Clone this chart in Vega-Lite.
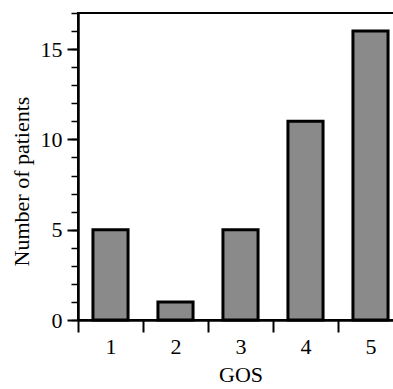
{
  "$schema": "https://vega.github.io/schema/vega-lite/v6.json",
  "width": 325,
  "height": 307,
  "autosize": {"type": "none"},
  "padding": {"left": 78, "top": 13, "right": 0, "bottom": 69},
  "background": "white",
  "config": {
    "view": {"stroke": "black", "strokeWidth": 2},
    "font": "Liberation Serif",
    "axis": {
      "grid": false,
      "domainColor": "black",
      "tickColor": "black",
      "labelColor": "black",
      "titleColor": "black",
      "labelFont": "Liberation Serif",
      "titleFont": "Liberation Serif",
      "titleFontWeight": "normal",
      "labelFontSize": 22,
      "titleFontSize": 22
    }
  },
  "data": {
    "values": [
      {"GOS": "1", "count": 5},
      {"GOS": "2", "count": 1},
      {"GOS": "3", "count": 5},
      {"GOS": "4", "count": 11},
      {"GOS": "5", "count": 16}
    ]
  },
  "layer": [
    {
      "mark": {"type": "bar", "fill": "#8a8a8a", "stroke": "black", "strokeWidth": 3, "width": {"band": 0.54}},
      "encoding": {
        "x": {
          "field": "GOS",
          "type": "ordinal",
          "scale": {"paddingInner": 0, "paddingOuter": 0},
          "axis": {
            "orient": "bottom",
            "title": "GOS",
            "labelAngle": 0,
            "tickBand": "extent",
            "tickSize": 12,
            "tickWidth": 2,
            "domainWidth": 2.5,
            "labelPadding": 4,
            "titlePadding": 7
          }
        },
        "y": {
          "field": "count",
          "type": "quantitative",
          "scale": {"domain": [0, 17], "nice": false},
          "axis": {
            "title": "Number of patients",
            "titleY": 168,
            "values": [0, 5, 10, 15],
            "tickSize": 11,
            "tickWidth": 2,
            "domainWidth": 2.5,
            "labelPadding": 5,
            "titlePadding": 7
          }
        }
      }
    },
    {
      "mark": {"type": "rule", "opacity": 0},
      "encoding": {
        "y": {
          "field": "count",
          "type": "quantitative",
          "axis": {
            "orient": "left",
            "title": null,
            "labels": false,
            "domain": false,
            "values": [0, 1, 2, 3, 4, 5, 6, 7, 8, 9, 10, 11, 12, 13, 14, 15, 16, 17],
            "tickSize": 7,
            "tickWidth": 1.5
          }
        }
      }
    }
  ],
  "resolve": {"axis": {"y": "independent"}}
}
